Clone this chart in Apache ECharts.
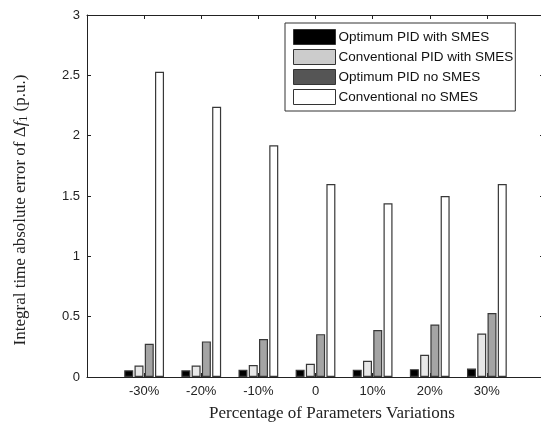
<!DOCTYPE html>
<html><head><meta charset="utf-8">
<script src="https://cdn.jsdelivr.net/npm/echarts@6/dist/echarts.min.js"></script>
<style>html,body{margin:0;padding:0;background:#fff}#c{width:541px;height:423px}</style>
</head><body><div id="c"></div>
<script>
const categories = ['-30%','-20%','-10%','0','10%','20%','30%'];
const seriesNames = ['Optimum PID with SMES','Conventional PID with SMES','Optimum PID no SMES','Conventional no SMES'];
const optWithSMES  = [0.055,0.055,0.06,0.06,0.06,0.065,0.07];
const convWithSMES = [0.095,0.095,0.10,0.11,0.135,0.185,0.36];
const optNoSMES    = [0.275,0.295,0.315,0.355,0.39,0.435,0.53];
const convNoSMES   = [2.53,2.24,1.92,1.60,1.44,1.50,1.60];
const yMin = 0, yMax = 3, yStep = 0.5;

const values = [optWithSMES, convWithSMES, optNoSMES, convNoSMES];
const barFills = ['#000000','#e8e8e8','#a4a4a4','#ffffff'];
const legendFills = ['#000000','#cccccc','#555555','#ffffff'];
const SANS = '"Liberation Sans", Arial, sans-serif';
const SERIF = '"Liberation Serif", "Times New Roman", serif';

const chart = echarts.init(document.getElementById('c'), null, {renderer:'canvas'});
const axisLine = {show:true, onZero:false, lineStyle:{color:'#222', width:1}};
const tick = {show:true, inside:true, length:4, lineStyle:{color:'#222'}};
const option = {
  backgroundColor:'#fff',
  animation:false,
  grid:{left:87, top:15, width:457, height:362, containLabel:false, outerBoundsMode:'none'},
  legend:{
    orient:'vertical', left:285, top:23,
    backgroundColor:'#fff', borderColor:'#333', borderWidth:1,
    padding:[6,2,6,8], itemGap:4, itemWidth:42, itemHeight:15,
    icon:'rect',
    textStyle:{fontFamily:SANS, fontSize:13.5, color:'#111', padding:[0,0,0,-2]},
    data: seriesNames.map((n,i)=>({name:n, itemStyle:{color:legendFills[i], borderColor:'#333', borderWidth:1}}))
  },
  xAxis:[{
    type:'value', min:0, max:categories.length+1, interval:1, position:'bottom',
    axisLine, splitLine:{show:false}, axisTick:tick,
    axisLabel:{fontFamily:SANS, fontSize:13, color:'#222', margin:8,
      formatter:v=> (v>=1 && v<=categories.length) ? categories[v-1] : ''},
    name:'Percentage of Parameters Variations', nameLocation:'middle', nameGap:28,
    nameTextStyle:{fontFamily:SERIF, fontSize:17, color:'#222', padding:[0,0,0,33]}
  },{
    type:'value', min:0, max:categories.length+1, interval:1, position:'top',
    axisLine, splitLine:{show:false}, axisTick:tick,
    axisLabel:{show:false}
  }],
  yAxis:[{
    type:'value', min:yMin, max:yMax, interval:yStep, position:'left',
    axisLine, splitLine:{show:false}, axisTick:tick,
    axisLabel:{fontFamily:SANS, fontSize:13, color:'#222', margin:7},
    name:'Integral time absolute error of Δ{i|f}{s|1} (p.u.)', nameLocation:'middle', nameGap:57, nameRotate:90,
    nameTextStyle:{fontFamily:SERIF, fontSize:17, color:'#222', padding:[0,28,0,0],
      rich:{i:{fontFamily:SERIF, fontSize:17, fontStyle:'italic', color:'#222'},
            s:{fontFamily:SERIF, fontSize:12, color:'#222', verticalAlign:'bottom', padding:[7,0,0,0]}}}
  },{
    type:'value', min:yMin, max:yMax, interval:yStep, position:'right',
    axisLine, splitLine:{show:false}, axisTick:tick,
    axisLabel:{show:false}
  }],
  series: seriesNames.map((n,i)=>({
    name:n, type:'bar', xAxisIndex:0, yAxisIndex:0,
    barWidth:9, barGap:'14%',
    itemStyle:{color:barFills[i], borderColor:'#383838', borderWidth:1.2},
    data: values[i].map((v,k)=>[k+1, v])
  }))
};
chart.setOption(option);
</script></body></html>
